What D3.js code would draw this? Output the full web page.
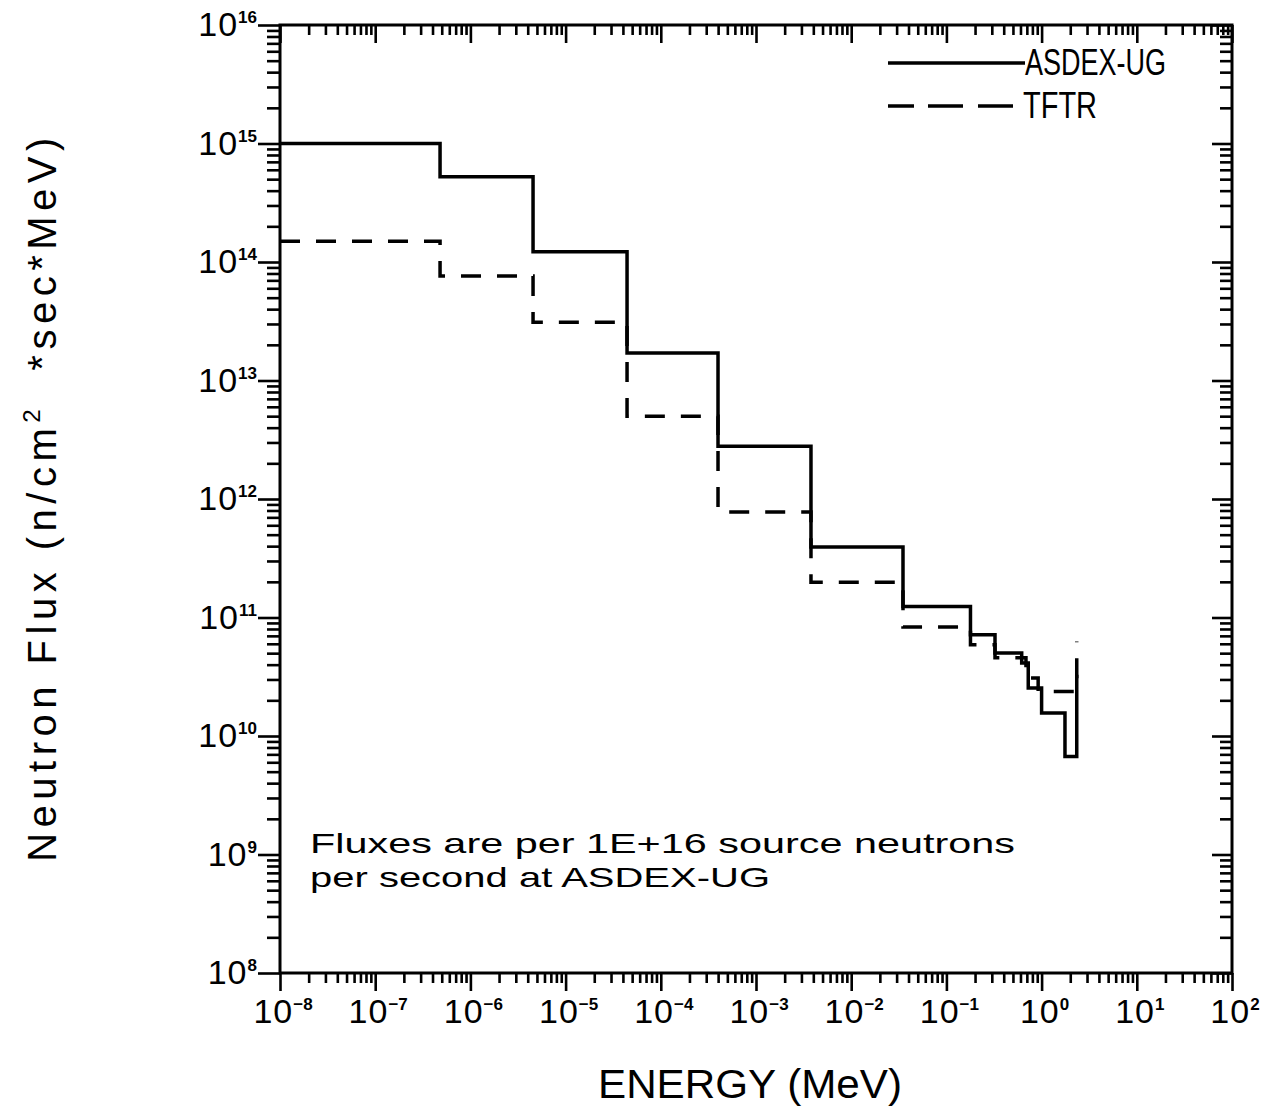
<!DOCTYPE html>
<html>
<head>
<meta charset="utf-8">
<script src="https://cdn.jsdelivr.net/npm/d3@7"></script>
<style>
  html, body { margin: 0; padding: 0; background: #fff; }
  svg { display: block; }
</style>
</head>
<body>
<svg id="chart" width="1271" height="1107"></svg>
<script>
// ---------- data ----------
const asdexEdges = [1e-8, 4.8e-7, 4.55e-6, 4.42e-5, 3.99e-4, 3.78e-3, 3.50e-2, 0.179, 0.324, 0.618, 0.724, 1.00, 1.76, 2.34];
const asdexFlux  = [1.0e15, 5.25e14, 1.22e14, 1.71e13, 2.79e12, 3.94e11, 1.24e11, 7.16e10, 5.01e10, 4.13e10, 2.54e10, 1.56e10, 6.7e9, 3.29e10];

const tftrEdges = [1e-8, 4.8e-7, 4.55e-6, 4.42e-5, 3.99e-4, 3.78e-3, 3.50e-2, 0.179, 0.324, 0.685, 0.92, 2.34];
const tftrFlux  = [1.50e14, 7.6e13, 3.1e13, 4.99e12, 7.78e11, 1.98e11, 8.3e10, 5.9e10, 4.57e10, 3.08e10, 2.38e10, 6.28e10];

const xDecades = [-8, -7, -6, -5, -4, -3, -2, -1, 0, 1, 2];
const yDecades = [8, 9, 10, 11, 12, 13, 14, 15, 16];

const seriesNames = ["ASDEX-UG", "TFTR"];
const xTitle = "ENERGY (MeV)";
const yTitleA = "Neutron Flux (n/cm";
const yTitleB = "2";
const yTitleC = "  *sec*MeV)";
const noteLines = ["Fluxes are per 1E+16 source neutrons", "per second at ASDEX-UG"];

// ---------- layout ----------
const L = 280, R = 1232, T = 25, B = 973;
const svg = d3.select("#chart");
svg.append("rect").attr("width", 1271).attr("height", 1107).attr("fill", "#fff");

const x = d3.scaleLog().domain([1e-8, 1e2]).range([L, R]);
const y = d3.scaleLog().domain([1e8, 1e16]).range([B, T]);

const xMajor = xDecades.map(d => Math.pow(10, d));
const xMinor = [];
xDecades.slice(0, -1).forEach(d => { for (let k = 2; k <= 9; k++) xMinor.push(k * Math.pow(10, d)); });
const yMajor = yDecades.map(d => Math.pow(10, d));
const yMinor = [];
yDecades.slice(0, -1).forEach(d => { for (let k = 2; k <= 9; k++) yMinor.push(k * Math.pow(10, d)); });

function tickAxis(axis, transform) {
  const g = svg.append("g").attr("transform", transform).call(axis);
  g.select(".domain").remove();
  g.selectAll("line").attr("stroke", "#000").attr("stroke-width", 2.6);
  g.selectAll("text").remove();
  return g;
}
// bottom (outward)
tickAxis(d3.axisBottom(x).tickValues(xMinor).tickSize(10).tickFormat(""), `translate(0,${B})`);
tickAxis(d3.axisBottom(x).tickValues(xMajor).tickSize(18).tickFormat(""), `translate(0,${B})`);
// top (inward)
tickAxis(d3.axisBottom(x).tickValues(xMinor).tickSize(10).tickFormat(""), `translate(0,${T})`);
tickAxis(d3.axisBottom(x).tickValues(xMajor).tickSize(18).tickFormat(""), `translate(0,${T})`);
// left (outward)
tickAxis(d3.axisLeft(y).tickValues(yMinor).tickSize(13).tickFormat(""), `translate(${L},0)`);
tickAxis(d3.axisLeft(y).tickValues(yMajor).tickSize(22).tickFormat(""), `translate(${L},0)`);
// right (inward)
tickAxis(d3.axisLeft(y).tickValues(yMinor).tickSize(12).tickFormat(""), `translate(${R},0)`);
tickAxis(d3.axisLeft(y).tickValues(yMajor).tickSize(20).tickFormat(""), `translate(${R},0)`);

// frame
svg.append("rect").attr("x", L).attr("y", T).attr("width", R - L).attr("height", B - T)
  .attr("fill", "none").attr("stroke", "#000").attr("stroke-width", 3);

const FONT = "'Liberation Sans', Arial, Helvetica, sans-serif";

// y tick labels
yDecades.forEach(d => {
  const t = svg.append("text")
    .attr("x", 257).attr("y", y(Math.pow(10, d)) + 11)
    .attr("text-anchor", "end").attr("font-family", FONT).attr("fill", "#000");
  t.append("tspan").attr("font-size", 34).attr("letter-spacing", 1).text("10");
  t.append("tspan").attr("font-size", 17).attr("font-weight", "bold").attr("dy", -13).text(String(d));
});
// x tick labels
xDecades.forEach(d => {
  const t = svg.append("text")
    .attr("x", x(Math.pow(10, d)) + 3).attr("y", 1023)
    .attr("text-anchor", "middle").attr("font-family", FONT).attr("fill", "#000");
  t.append("tspan").attr("font-size", 34).attr("letter-spacing", 1).text("10");
  t.append("tspan").attr("font-size", 17).attr("font-weight", "bold").attr("dy", -13)
    .text(d < 0 ? "\u2212" + Math.abs(d) : String(d));
});

// axis titles
svg.append("text").attr("x", 750).attr("y", 1098).attr("text-anchor", "middle")
  .attr("font-family", FONT).attr("font-size", 40).attr("textLength", 304)
  .attr("lengthAdjust", "spacingAndGlyphs").text(xTitle);

const yt = svg.append("text").attr("transform", "translate(56,497) rotate(-90)")
  .attr("text-anchor", "middle").attr("font-family", FONT).attr("font-size", 40)
  .attr("letter-spacing", 5.5)
  .attr("xml:space", "preserve").style("white-space", "pre");
yt.append("tspan").text(yTitleA);
yt.append("tspan").attr("font-size", 24).attr("dy", -16).text(yTitleB);
yt.append("tspan").attr("dy", 16).text(yTitleC);

// note
svg.append("text").attr("x", 310).attr("y", 853).attr("font-family", FONT).attr("font-size", 28)
  .attr("textLength", 705).attr("lengthAdjust", "spacingAndGlyphs").text(noteLines[0]);
svg.append("text").attr("x", 310).attr("y", 887).attr("font-family", FONT).attr("font-size", 28)
  .attr("textLength", 460).attr("lengthAdjust", "spacingAndGlyphs").text(noteLines[1]);

// data lines
const line = d3.line().x(d => x(d[0])).y(d => y(d[1])).curve(d3.curveStepAfter);
svg.append("path").datum(asdexEdges.map((e, i) => [e, asdexFlux[i]]))
  .attr("d", line).attr("fill", "none").attr("stroke", "#000").attr("stroke-width", 3.5);
svg.append("path").datum(tftrEdges.map((e, i) => [e, tftrFlux[i]]))
  .attr("d", line).attr("fill", "none").attr("stroke", "#000").attr("stroke-width", 3.5)
  .attr("stroke-dasharray", "20,16");

// legend
svg.append("line").attr("x1", 888).attr("x2", 1025).attr("y1", 63).attr("y2", 63)
  .attr("stroke", "#000").attr("stroke-width", 3.5);
svg.append("text").attr("x", 1025).attr("y", 75).attr("font-family", FONT).attr("font-size", 36)
  .attr("textLength", 141).attr("lengthAdjust", "spacingAndGlyphs").text(seriesNames[0]);
svg.append("line").attr("x1", 888).attr("x2", 1013).attr("y1", 106).attr("y2", 106)
  .attr("stroke", "#000").attr("stroke-width", 3.5).attr("stroke-dasharray", "26,14,35,15,36");
svg.append("text").attr("x", 1023).attr("y", 118).attr("font-family", FONT).attr("font-size", 36)
  .attr("textLength", 74).attr("lengthAdjust", "spacingAndGlyphs").text(seriesNames[1]);
</script>
</body>
</html>
